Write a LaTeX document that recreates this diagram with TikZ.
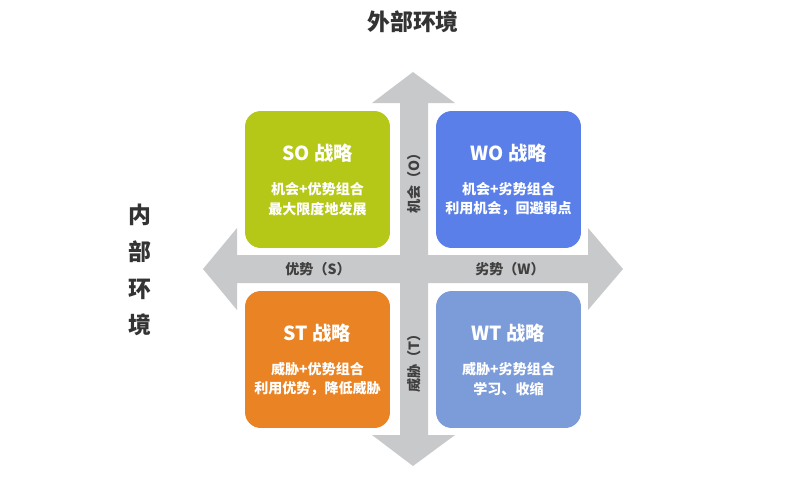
\documentclass[tikz,border=0pt]{standalone}
\usepackage{fontspec}
\setmainfont{Noto Sans CJK SC}
\definecolor{arrowgray}{HTML}{C8C9CB}
\definecolor{sogreen}{HTML}{B5C818}
\definecolor{woblue}{HTML}{5A7FE9}
\definecolor{storange}{HTML}{E98323}
\definecolor{wtblue}{HTML}{7C9BD9}
\tikzset{
  quad/.style={fill=#1, rounded corners=9pt, minimum width=2.9cm, minimum height=2.74cm},
  qtitle/.style={text=white, font=\bfseries\fontsize{11}{13}\selectfont},
  qtext/.style={text=white, font=\bfseries\fontsize{8}{11}\selectfont, align=center},
  axis/.style={text=black!75, font=\bfseries\fontsize{8}{10}\selectfont}
}
\begin{document}
\begin{tikzpicture}[x=0.02cm, y=-0.02cm]
  \useasboundingbox (0,0) rectangle (810,480);

  % cross of arrows
  \fill [arrowgray]
       (413,72)--(455,103)--(428,103)--(428,255)--(588,255)--(588,228)--(623,269)
       --(588,310)--(588,283)--(428,283)--(428,435)--(455,435)--(413,466)--(372,435)
       --(400,435)--(400,283)--(237,283)--(237,310)--(203,269)--(237,228)--(237,255)
       --(400,255)--(400,103)--(372,103)--cycle;

  % quadrants
  \node [quad=sogreen] (so) at (317.5,179.5) {};
  \node [quad=woblue] (wo) at (508.5,179.5) {};
  \node [quad=storange] (st) at (317.5,359.5) {};
  \node [quad=wtblue] (wt) at (508.5,359.5) {};

  \node [qtitle] (sot) at (317.5,153) {SO 战略};
  \node [qtext] (sox) at (317.5,199) {机会+优势组合\\最大限度地发展};
  \node [qtitle] (wot) at (508.5,153) {WO 战略};
  \node [qtext] (wox) at (508.5,199) {机会+劣势组合\\利用机会，回避弱点};
  \node [qtitle] (stt) at (317.5,333) {ST 战略};
  \node [qtext] (stx) at (317.5,379) {威胁+优势组合\\利用优势，降低威胁};
  \node [qtitle] (wtt) at (508.5,333) {WT 战略};
  \node [qtext] (wtx) at (508.5,379) {威胁+劣势组合\\学习、收缩};

  % axis labels
  \node [axis] (s) at (318,269) {优势（S）};
  \node [axis] (w) at (510,269) {劣势（W）};
  \node [axis, rotate=90] (o) at (414,180) {机会（O）};
  \node [axis, rotate=90] (t) at (414,360) {威胁（T）};

  \node [font=\bfseries\fontsize{13}{15}\selectfont, text=black!80] (ext) at (413,22) {外部环境};
  \node [font=\bfseries\fontsize{13}{21}\selectfont, text=black!80, align=center] (int) at (140,270) {内\\部\\环\\境};
\end{tikzpicture}
\end{document}
